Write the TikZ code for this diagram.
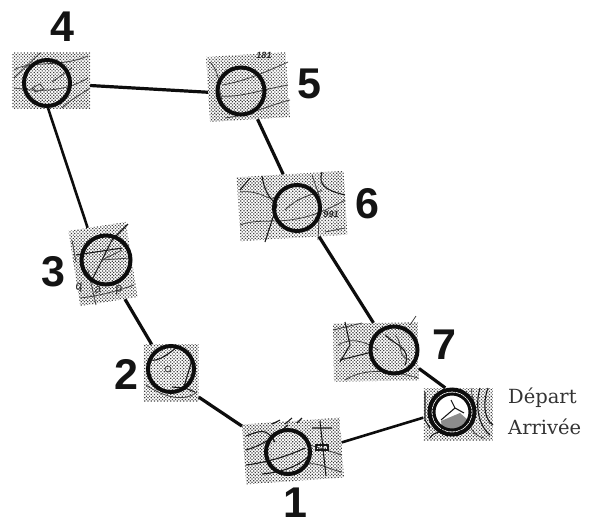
\documentclass[tikz,border=0pt]{standalone}
\usepackage{fontspec}
\setmainfont{Liberation Sans}
\newfontfamily\serifl{DejaVu Serif}
\usetikzlibrary{patterns.meta}
\tikzset{
  patch/.style={inner sep=0pt,draw=none,rectangle,fill=black!28,
    pattern={Dots[distance=2.3pt,radius=0.85pt,angle=45]},pattern color=black!75},
  ring/.style={circle,draw=black!95,line width=4pt,inner sep=0pt},
  conn/.style={draw=black!95,line width=3.2pt},
  num/.style={font=\bfseries\fontsize{43}{43}\selectfont,inner sep=0pt,text=black!92},
  lab/.style={font=\serifl\fontsize{19.5}{20}\selectfont,inner sep=0pt,text=black!80,anchor=base west},
  maptext/.style={font=\itshape\fontsize{12}{12}\selectfont,inner sep=0pt,text=black!85},
  topo/.style={draw=black!75,line width=.8pt},
  topob/.style={draw=black!90,line width=1.1pt}
}
\begin{document}
\begin{tikzpicture}[x=1pt,y=-1pt]
\useasboundingbox[fill=white] (0,0) rectangle (602,523);
% map patches
\node[patch,minimum width=78pt,minimum height=56pt] (p4) at (51,80) {};
\node[patch,minimum width=80pt,minimum height=65pt,rotate=3.5] (p5) at (248,87) {};
\node[patch,minimum width=107pt,minimum height=64pt,rotate=3.5] (p6) at (292,206) {};
\node[patch,minimum width=58pt,minimum height=76pt,rotate=9] (p3) at (103,264) {};
\node[patch,minimum width=55pt,minimum height=57pt] (p2) at (171,373) {};
\node[patch,minimum width=98pt,minimum height=60pt,rotate=4] (p1) at (293,451) {};
\node[patch,minimum width=85pt,minimum height=58pt,rotate=1] (p7) at (376,352) {};
\node[patch,minimum width=69pt,minimum height=52pt] (p0) at (458,414) {};
% contours, patch 4
\draw[topo] (14,70) .. controls (30,60) and (60,68) .. (88,56);
\draw[topo] (14,88) .. controls (30,90) and (60,95) .. (88,78);
\draw[topo] (62,108) .. controls (70,100) and (80,95) .. (90,88);
\draw[topo] (14,78) -- (40,53);
\draw[topo] (32,88) -- (40,84) -- (44,89) -- (36,92) -- cycle;
\draw[topo] (52,82) -- (72,68);
% patch 5
\draw[topo] (222,85) .. controls (240,82) and (260,75) .. (288,62);
\draw[topo] (218,96) .. controls (240,98) and (260,90) .. (288,85);
\draw[topo] (225,118) .. controls (250,115) and (270,105) .. (290,100);
\draw[topo] (210,62) .. controls (222,75) and (218,90) .. (222,100);
\node[maptext,font=\bfseries\itshape\fontsize{9}{9}\selectfont] (t5) at (264,55) {181};
% patch 6
\draw[topo] (240,192) .. controls (262,190) and (265,200) .. (275,198);
\draw[topo] (240,225) .. controls (265,215) and (290,232) .. (345,200);
\draw[topob] (240,190) -- (250,178);
\draw[topob] (262,176) .. controls (265,195) and (272,200) .. (277,205) -- (265,242);
\draw[topo] (285,210) .. controls (300,195) and (315,195) .. (322,190);
\draw[topob] (322,172) .. controls (318,185) and (325,190) .. (345,195);
\draw[topo] (312,175) -- (320,198) -- (318,240);
\draw[topo] (325,232) -- (345,228);
\node[maptext,font=\bfseries\itshape\fontsize{9}{9}\selectfont] (t6) at (331,214) {991};
% patch 3
\draw[topob] (76,255) -- (122,248);
\draw[topob] (92,280) -- (112,240) -- (128,224);
\draw[topo] (102,260) -- (130,258) (102,260) -- (122,250);
\draw[topo] (72,240) -- (76,262);
\draw[topo] (88,270) -- (96,305) (80,298) .. controls (100,296) and (120,290) .. (134,285);
\node[maptext,rotate=9] (t3a) at (79,288) {q};
\node[maptext,rotate=9] (t3b) at (98,290) {a};
\node[maptext,rotate=9] (t3c) at (119,290) {p};
% patch 2
\draw[topob] (150,360) .. controls (160,362) and (170,352) .. (176,348);
\draw[topo] (146,385) .. controls (165,398) and (185,402) .. (197,392);
\draw[topob] (183,390) -- (192,360);
\draw[topob] (172,387) -- (185,388) -- (195,392);
\draw[topo] (168,369) circle (3pt);
% patch 1
\draw[topob] (246,436) .. controls (262,430) and (266,428) .. (275,442);
\draw[topob] (246,450) .. controls (262,445) and (270,440) .. (288,425);
\draw[topob] (246,465) .. controls (270,462) and (290,455) .. (305,448);
\draw[topob] (262,474) .. controls (285,472) and (300,465) .. (310,455);
\draw[topo] (310,445) -- (342,455);
\draw[topo] (305,465) .. controls (315,460) and (330,470) .. (342,472);
\draw[topob] (312,428) -- (332,428) (320,421) -- (326,476);
\draw[topob] (316,445) rectangle (328,450);
\draw[topob] (272,424) -- (280,420) (285,424) -- (292,418) (297,423) -- (302,418);
% patch 7
\draw[topo] (333,330) -- (362,323) (338,345) .. controls (355,335) and (370,345) .. (378,350);
\draw[topob] (345,322) -- (350,345) -- (340,362) (340,360) -- (372,352);
\draw[topo] (345,380) .. controls (360,370) and (385,368) .. (418,378);
\draw[topob] (385,335) .. controls (395,345) and (412,348) .. (405,365);
\draw[topo] (395,335) .. controls (405,345) and (395,355) .. (410,360);
\draw[topo] (410,325) -- (416,316);
% start patch
\draw[topob] (425,392) -- (425,420) -- (430,428) (430,438) .. controls (435,430) and (440,435) .. (442,428);
\draw[topob] (480,388) .. controls (475,405) and (478,425) .. (490,435);
\draw[topob] (488,388) .. controls (482,405) and (485,420) .. (493,425);
\draw[topo] (470,425) .. controls (472,432) and (476,436) .. (484,438);
\draw[topo] (472,388) .. controls (470,396) and (476,402) .. (475,410);
% start ring with its road
\fill[white] (452,412) circle (17pt);
\fill[black!45] (441,421) -- (460,413) -- (468,420) -- (456,430) -- (442,428) -- cycle;
\draw[black!90,line width=1.1pt] (451,400) -- (455,408) -- (464,413) (455,408) -- (441,420);
% rings
\node[ring,minimum size=46pt] (c4) at (47,83) {};
\node[ring,minimum size=47pt] (c5) at (241,91) {};
\node[ring,minimum size=46pt] (c6) at (297,208) {};
\node[ring,minimum size=49pt] (c3) at (106,260) {};
\node[ring,minimum size=46pt] (c2) at (171,369) {};
\node[ring,minimum size=44pt] (c1) at (288,452) {};
\node[ring,minimum size=47pt] (c7) at (394,350) {};
\node[ring,minimum size=45pt] (c0) at (452,412) {};
\node[ring,minimum size=36pt,line width=3pt] (c0i) at (452,412) {};
% connectors
\draw[conn,line width=2.6pt] (p4.-96) -- (p3.104.5);
\draw[conn] (p4.-8.5) -- (p5.184);
\draw[conn] (p5.-77) -- (p6.102);
\draw[conn] (p6.-52) -- (p7.94);
\draw[conn] (p7.-22) -- (p0.116.6);
\draw[conn,line width=2.6pt] (p0.186.7) -- (p1.6.6);
\draw[conn] (p1.150) -- (p2.-41.6);
\draw[conn] (p2.124.2) -- (p3.-67);
% numbers
\node[num] (n1) at (295,503) {1};
\node[num] (n2) at (126,374) {2};
\node[num] (n3) at (53,272) {3};
\node[num] (n4) at (62,27) {4};
\node[num] (n5) at (309,84) {5};
\node[num] (n6) at (367,204) {6};
\node[num] (n7) at (444,345) {7};
\node[lab] (dep) at (508,403) {Départ};
\node[lab] (arr) at (508,434) {Arrivée};
\end{tikzpicture}
\end{document}
